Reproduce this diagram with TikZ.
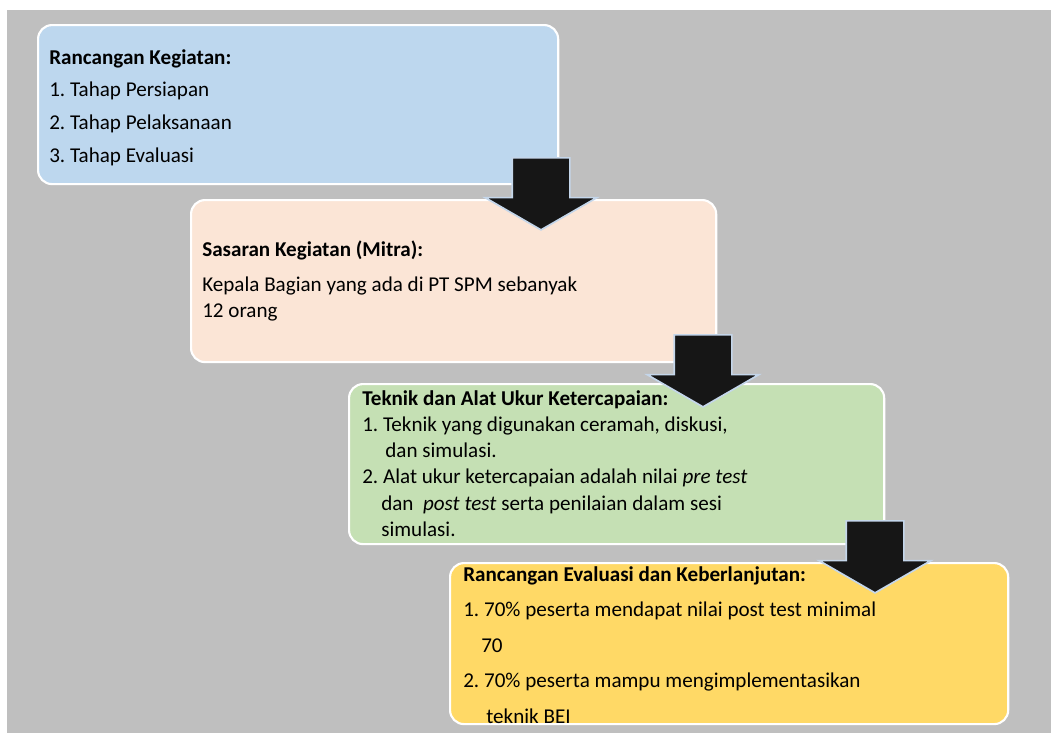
\documentclass[tikz,border=0pt]{standalone}
\usepackage{fontspec}
\setmainfont{Carlito}
\usetikzlibrary{shapes.arrows}
\frenchspacing

\definecolor{bggray}{HTML}{BFBFBF}
\definecolor{boxblue}{HTML}{BDD7EE}
\definecolor{boxpeach}{HTML}{FBE5D6}
\definecolor{boxgreen}{HTML}{C5E0B4}
\definecolor{boxyellow}{HTML}{FFD966}
\definecolor{arrowfill}{HTML}{161616}
\definecolor{arrowline}{HTML}{C4D6EA}

\tikzset{
  stagebox/.style={draw=white, line width=1.5pt, rounded corners=0.35cm, anchor=north west, inner sep=0pt},
  stagetext/.style={anchor=north west, inner sep=0pt, align=left, text=black},
  downarrow/.style={single arrow, draw=arrowline, fill=arrowfill, line width=1.2pt, rotate=-90, anchor=tail,
    inner xsep=0pt, inner ysep=0.7cm, minimum height=1.8cm, single arrow head extend=0.675cm,
    single arrow tip angle=120},
}

\begin{document}
\begin{tikzpicture}[x=0.025cm, y=-0.025cm]
 \useasboundingbox (0,0) rectangle (1051,733);
 \fill[bggray] (7,10) rectangle (1051,733);

 % the four stages
 \node[stagebox, fill=boxblue, minimum width=13cm, minimum height=3.975cm] (rancangan) at (37,24) {};
 \node[stagebox, fill=boxpeach, minimum width=13.125cm, minimum height=4.05cm] (sasaran) at (190,199) {};
 \node[stagebox, fill=boxgreen, minimum width=13.375cm, minimum height=4cm] (teknik) at (348,383) {};
 \node[stagebox, fill=boxyellow, minimum width=13.95cm, minimum height=4.025cm] (evaluasi) at (449,562) {};

 \node[stagetext, font={\fontsize{15pt}{23.3pt}\selectfont}] (rancanganText) at (49,49)
   {\textbf{Rancangan Kegiatan:}\\1. Tahap Persiapan\\2. Tahap Pelaksanaan\\3. Tahap Evaluasi};
 \node[stagetext, font={\fontsize{15pt}{18.5pt}\selectfont}] (sasaranText) at (202,241)
   {\textbf{Sasaran Kegiatan (Mitra):}\\[6.4pt]Kepala Bagian yang ada di PT SPM sebanyak\\12 orang};
 \node[stagetext, font={\fontsize{15pt}{18.7pt}\selectfont}] (teknikText) at (362,390)
   {\textbf{Teknik dan Alat Ukur Ketercapaian:}\\
    1. Teknik yang digunakan ceramah, diskusi,\\
    \hspace*{16.4pt}dan simulasi.\\
    2. Alat ukur ketercapaian adalah nilai \textit{pre test}\\
    \hspace*{13.5pt}dan\ \ \textit{post test} serta penilaian dalam sesi\\
    \hspace*{13.5pt}simulasi.};
 \node[stagetext, font={\fontsize{15pt}{25.3pt}\selectfont}] (evaluasiText) at (463,566)
   {\textbf{Rancangan Evaluasi dan Keberlanjutan:}\\
    1. 70\% peserta mendapat nilai post test minimal\\
    \hspace*{12.8pt}70\\
    2. 70\% peserta mampu mengimplementasikan\\
    \hspace*{16.4pt}teknik BEI};

 % arrows between stages
 \node[downarrow] (arrowA) at (541,157) {};
 \node[downarrow] (arrowB) at (703,334) {};
 \node[downarrow] (arrowC) at (875,520) {};
\end{tikzpicture}
\end{document}
